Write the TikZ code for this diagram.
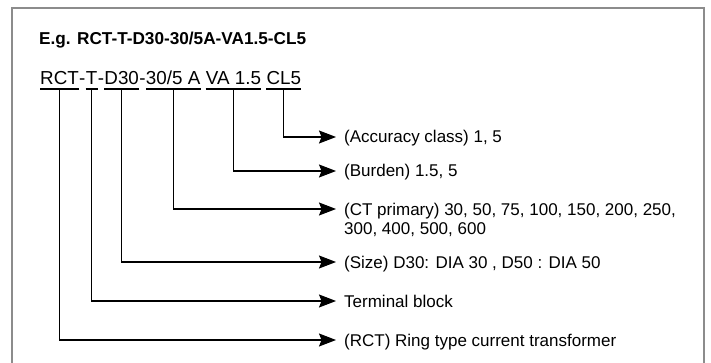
\documentclass[tikz,border=0pt]{standalone}
\usepackage{fontspec}
\setmainfont{Liberation Sans}
\usetikzlibrary{arrows.meta}
\definecolor{frame_gray}{RGB}{140,140,140}

\begin{document}
\begin{tikzpicture}[x=1pt,y=-1pt,
    code_node/.style={inner sep=0pt, anchor=base west, font=\fontsize{18.8}{22}\selectfont},
    text_node/.style={inner xsep=8pt, inner ysep=0pt, text height=12pt, text depth=0pt, anchor=west, font=\fontsize{17}{20}\selectfont},
    under_line/.style={line width=2.4pt},
    lead_line/.style={line width=1.1pt, -{Stealth[length=17pt,width=13pt,inset=2.5pt]}}]

    \useasboundingbox (0,0) rectangle (711,363);
    \draw[line width=2pt, frame_gray] (12,363) |- (704,8) -- (704,363);

    \node[inner sep=0pt, anchor=base west, font=\fontsize{17.2}{20}\selectfont\bfseries] (title) at (39,45) {E.g. RCT-T-D30-30/5A-VA1.5-CL5};

    \node[code_node] (rct)  at (40,85)          {RCT};
    \node[code_node] (h1)   at (rct.base east)  {-};
    \node[code_node] (term) at (h1.base east)   {T};
    \node[code_node] (h2)   at (term.base east) {-};
    \node[code_node] (size) at (h2.base east)   {D30};
    \node[code_node] (h3)   at (size.base east) {-};
    \node[code_node] (prim) at (h3.base east)   {30/5 A};
    \node[code_node] (burd) at ([xshift=5.2pt]prim.base east) {VA 1.5};
    \node[code_node] (acc)  at ([xshift=5.2pt]burd.base east) {CL5};

    \node[text_node] (acc_txt)   at (336,137) {(Accuracy class) 1, 5};
    \node[text_node] (burd_txt)  at (336,171) {(Burden) 1.5, 5};
    \node[text_node] (prim_txt)  at (336,209) {(CT primary) 30, 50, 75, 100, 150, 200, 250,};
    \node[text_node] (prim_txt2) at (336,228) {300, 400, 500, 600};
    \node[text_node] (size_txt)  at (336,262) {(Size) D30: DIA 30 , D50 : DIA 50};
    \node[text_node] (term_txt)  at (336,301) {Terminal block};
    \node[text_node] (rct_txt)   at (336,340) {(RCT) Ring type current transformer};

    \draw[under_line] ([yshift=-4pt]rct.base west)  -- ([yshift=-4pt]rct.base east);
    \draw[under_line] ([yshift=-4pt]term.base west) -- ([yshift=-4pt]term.base east);
    \draw[under_line] ([yshift=-4pt]size.base west) -- ([yshift=-4pt]size.base east);
    \draw[under_line] ([yshift=-4pt]prim.base west) -- ([yshift=-4pt]prim.base east);
    \draw[under_line] ([yshift=-4pt]burd.base west) -- ([yshift=-4pt]burd.base east);
    \draw[under_line] ([yshift=-4pt]acc.base west)  -- ([yshift=-4pt]acc.base east);

    \draw[lead_line] ([yshift=-4pt]acc.base)  |- (acc_txt.west);
    \draw[lead_line] ([yshift=-4pt]burd.base) |- (burd_txt.west);
    \draw[lead_line] ([yshift=-4pt]prim.base) |- (prim_txt.west);
    \draw[lead_line] ([yshift=-4pt]size.base) |- (size_txt.west);
    \draw[lead_line] ([yshift=-4pt]term.base) |- (term_txt.west);
    \draw[lead_line] ([yshift=-4pt]rct.base)  |- (rct_txt.west);

\end{tikzpicture}
\end{document}
